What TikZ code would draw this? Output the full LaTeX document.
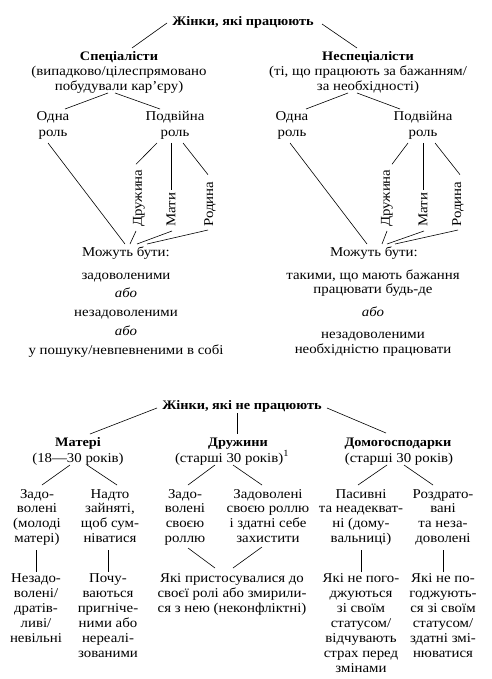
\documentclass[tikz,border=0pt]{standalone}
\usepackage{fontspec}
\setmainfont{Liberation Serif}[FakeStretch=1.1]
\begin{document}
\begin{tikzpicture}[x=1pt,y=-1pt,
  txt/.style={inner sep=0pt, align=center, anchor=base, font=\fontsize{13.5}{14.7}\selectfont},
  hd/.style={txt, font=\fontsize{13}{15}\selectfont\bfseries},
  rot/.style={inner sep=0pt, rotate=90, anchor=west, font=\fontsize{13.5}{15}\selectfont},
  ln/.style={line width=0.6pt}]
\useasboundingbox (0,0) rectangle (491,679);
% ---------- top part ----------
\node[hd] (t1) at (243,26) {Жінки, які працюють};
\node[txt, font=\fontsize{13.5}{15}\selectfont] (spec) at (119,91) {\textbf{\fontsize{13}{15}\selectfont Спеціалісти}\\(випадково/цілеспрямовано\\побудували кар’єру)};
\node[txt, font=\fontsize{13.5}{15}\selectfont] (nspec) at (368,91) {\textbf{\fontsize{13}{15}\selectfont Неспеціалісти}\\(ті, що працюють за бажанням/\\за необхідності)};
\node[txt, font=\fontsize{13.5}{16}\selectfont] (o1) at (53,137) {Одна\\роль};
\node[txt, font=\fontsize{13.5}{16}\selectfont] (p1) at (175,137) {Подвійна\\роль};
\node[txt, font=\fontsize{13.5}{16}\selectfont] (o2) at (292,137) {Одна\\роль};
\node[txt, font=\fontsize{13.5}{16}\selectfont] (p2) at (423,137) {Подвійна\\роль};
\node[rot] (d1) at (139,227) {Дружина};
\node[rot] (m1) at (171,227) {Мати};
\node[rot] (r1) at (210,227) {Родина};
\node[rot] (d2) at (387,227) {Дружина};
\node[rot] (m2) at (423,227) {Мати};
\node[rot] (r2) at (458,227) {Родина};
\node[txt] (mb1) at (126,256) {Можуть бути:};
\node[txt] (z1) at (126,279) {задоволеними};
\node[txt] (a1) at (126,297) {\textit{або}};
\node[txt] (nz1) at (126,316) {незадоволеними};
\node[txt] (a2) at (126,335) {\textit{або}};
\node[txt] (u1) at (126,354) {у пошуку/невпевненими в собі};
\node[txt] (mb2) at (374,256) {Можуть бути:};
\node[txt, font=\fontsize{13.5}{14}\selectfont] (tk) at (373,293) {такими, що мають бажання\\працювати будь-де};
\node[txt] (a3) at (373,316) {\textit{або}};
\node[txt, font=\fontsize{13.5}{15}\selectfont] (nz2) at (373,353) {незадоволеними\\необхідністю працювати};
% connectors top
\draw[ln] ([shift={(-76,-3)}]t1.base) -- ([shift={(13,-43)}]spec.base);
\draw[ln] ([shift={(79,-2)}]t1.base) -- ([shift={(-11,-43)}]nspec.base);
\draw[ln] ([shift={(-11,2)}]spec.base) -- ([shift={(12,-28)}]o1.base);
\draw[ln] ([shift={(-4,2)}]spec.base) -- ([shift={(-15,-28)}]p1.base);
\draw[ln] ([shift={(-20,2)}]nspec.base) -- ([shift={(14,-28)}]o2.base);
\draw[ln] ([shift={(-11,2)}]nspec.base) -- ([shift={(-23,-28)}]p2.base);
\draw[ln] ([shift={(-18,6)}]p1.base) -- ([shift={(-3,-5)}]d1.east);
\draw[ln] ([shift={(-4,6)}]p1.base) -- ([shift={(0,-3)}]m1.east);
\draw[ln] ([shift={(8,6)}]p1.base) -- ([shift={(-2,-7)}]r1.east);
\draw[ln] ([shift={(-5,6)}]o1.base) -- ([shift={(-1,-12)}]mb1.base);
\draw[ln] ([shift={(-3,4)}]d1.west) -- ([shift={(4,-12)}]mb1.base);
\draw[ln] ([shift={(1,4)}]m1.west) -- ([shift={(11,-12)}]mb1.base);
\draw[ln] ([shift={(-2,3)}]r1.west) -- ([shift={(21,-12)}]mb1.base);
\draw[ln] ([shift={(-15,6)}]p2.base) -- ([shift={(5,-5)}]d2.east);
\draw[ln] ([shift={(0,6)}]p2.base) -- ([shift={(0,-3)}]m2.east);
\draw[ln] ([shift={(12,6)}]p2.base) -- ([shift={(2,-7)}]r2.east);
\draw[ln] ([shift={(-2,6)}]o2.base) -- ([shift={(-7,-12)}]mb2.base);
\draw[ln] ([shift={(0,4)}]d2.west) -- ([shift={(8,-12)}]mb2.base);
\draw[ln] ([shift={(1,4)}]m2.west) -- ([shift={(13,-12)}]mb2.base);
\draw[ln] ([shift={(0,3)}]r2.west) -- ([shift={(21,-12)}]mb2.base);
% ---------- bottom part ----------
\node[hd] (t2) at (242,409) {Жінки, які не працюють};
\node[hd] (matH) at (78,446) {Матері};
\node[txt] (matS) at (78,462) {(18—30 років)};
\node[hd] (druzH) at (238,446) {Дружини};
\node[txt] (druzS) at (232,462) {(старші 30 років)\textsuperscript{1}};
\node[hd] (domH) at (398,446) {Домогосподарки};
\node[txt] (domS) at (399,462) {(старші 30 років)};
\node[txt] (c1) at (37,542.1) {Задо-\\волені\\(молоді\\матері)};
\node[txt] (c2) at (110,542.1) {Надто\\зайняті,\\щоб сум-\\ніватися};
\node[txt] (c3) at (185,542.1) {Задо-\\волені\\своєю\\роллю};
\node[txt] (c4) at (268,542.1) {Задоволені\\своєю роллю\\і здатні себе\\захистити};
\node[txt] (c5) at (361,542.1) {Пасивні\\та неадекват-\\ні (дому-\\вальниці)};
\node[txt] (c6) at (443,542.1) {Роздрато-\\вані\\та неза-\\доволені};
\node[txt, font=\fontsize{13.5}{15}\selectfont] (b1) at (36,642) {Незадо-\\волені/\\дратів-\\ливі/\\невільні};
\node[txt, font=\fontsize{13.5}{15}\selectfont] (b2) at (108,657) {Почу-\\ваються\\пригніче-\\ними або\\нереалі-\\зованими};
\node[txt, font=\fontsize{13.5}{15}\selectfont] (b3) at (232,612) {Які пристосувалися до\\своєї ролі або змирили-\\ся з нею (неконфліктні)};
\node[txt, font=\fontsize{13.5}{15}\selectfont] (b4) at (361,672) {Які не пого-\\джуються\\зі своїм\\статусом/\\відчувають\\страх перед\\змінами};
\node[txt, font=\fontsize{13.5}{15}\selectfont] (b5) at (443,657) {Які не по-\\годжують-\\ся зі своїм\\статусом/\\здатні змі-\\нюватися};
% connectors bottom
\draw[ln] ([shift={(-85,-1)}]t2.base) -- ([shift={(12,-12)}]matH.base);
\draw[ln] ([shift={(-5,4)}]t2.base) -- ([shift={(-1,-12)}]druzH.base);
\draw[ln] ([shift={(85,-1)}]t2.base) -- ([shift={(-12,-13)}]domH.base);
\draw[ln] ([shift={(-8,3)}]matS.base) -- ([shift={(5,-57.1)}]c1.base);
\draw[ln] ([shift={(9,3)}]matS.base) -- ([shift={(7,-57.1)}]c2.base);
\draw[ln] ([shift={(-17,3)}]druzS.base) -- ([shift={(3,-57.1)}]c3.base);
\draw[ln] ([shift={(1,3)}]druzS.base) -- ([shift={(-6,-57.1)}]c4.base);
\draw[ln] ([shift={(-12,3)}]domS.base) -- ([shift={(-3,-57.1)}]c5.base);
\draw[ln] ([shift={(5,3)}]domS.base) -- ([shift={(-10,-57.1)}]c6.base);
\draw[ln] ([shift={(-1,7.9)}]c1.base) -- ([shift={(0,-70)}]b1.base);
\draw[ln] ([shift={(-2,7.9)}]c2.base) -- ([shift={(0,-85)}]b2.base);
\draw[ln] ([shift={(3,5.9)}]c3.base) -- ([shift={(-17,-44)}]b3.base);
\draw[ln] ([shift={(-6,4.9)}]c4.base) -- ([shift={(1,-44)}]b3.base);
\draw[ln] ([shift={(0,7.9)}]c5.base) -- ([shift={(0,-100)}]b4.base);
\draw[ln] ([shift={(0,7.9)}]c6.base) -- ([shift={(0,-85)}]b5.base);
\end{tikzpicture}
\end{document}
